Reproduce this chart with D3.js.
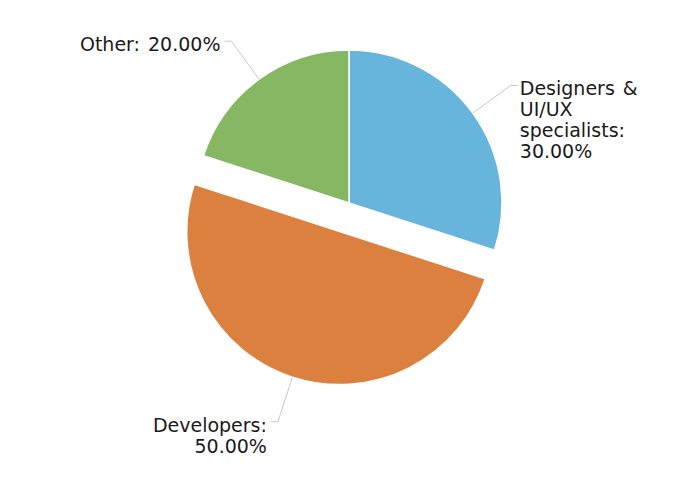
<!DOCTYPE html>
<html>
<head>
<meta charset="utf-8">
<script src="https://cdn.jsdelivr.net/npm/d3@7"></script>
<style>
    body { margin: 0; background: #fff; }
    #chart text { font-family: "DejaVu Sans", Verdana, sans-serif; font-size: 19px; fill: #1a1a1a; }
</style>
</head>
<body>
<div id="chart"></div>
<script>
let width = 692;
let height = 477;

// data
let categories = ["Designers & UI/UX specialists", "Developers", "Other"];
let values = [30, 50, 20];
let colors = ["#67b5dd", "#dc803f", "#86b763"];
let labelLines = [["Designers &", "UI/UX", "specialists:", "30.00%"], ["Developers:", "50.00%"], ["Other: 20.00%"]];
let exploded = [false, true, false];

let cx = 349, cy = 203;
let radius = 153;
let explodeOffset = 30;
let lineH = 21;

let svg = d3.select("#chart").append("svg")
    .attr("width", width).attr("height", height);

let pie = d3.pie().sort(null).value(d => d)(values);
let arc = d3.arc().innerRadius(0).outerRadius(radius);

let g = svg.append("g").attr("transform", `translate(${cx},${cy})`);

pie.forEach((p, i) => {
    let mid = (p.startAngle + p.endAngle) / 2;
    let off = exploded[i] ? explodeOffset : 0;
    let dx = Math.sin(mid) * off, dy = -Math.cos(mid) * off;
    let sg = g.append("g").attr("transform", `translate(${dx},${dy})`);
    sg.append("path").attr("d", arc(p))
        .attr("fill", colors[i])
        .attr("stroke", "#fff").attr("stroke-width", 1.5);

    // leader line
    let ex = Math.sin(mid) * radius, ey = -Math.cos(mid) * radius;
    let kx = Math.sin(mid) * (radius + 47), ky = -Math.cos(mid) * (radius + 47);
    let right = Math.sin(mid) > 0;
    let hx = kx + (right ? 7 : -7);
    sg.append("polyline")
        .attr("points", [[ex, ey], [kx, ky], [hx, ky]].map(d => d.join(",")).join(" "))
        .attr("fill", "none").attr("stroke", "#c8c8c8").attr("stroke-width", 1);

    let tx = hx + (right ? 2 : -4);
    let t = sg.append("text")
        .attr("text-anchor", right ? "start" : "end")
        .attr("x", tx)
        .attr("y", ky + 10);
    labelLines[i].forEach((l, j) => {
        t.append("tspan").attr("x", tx).attr("dy", j === 0 ? 0 : lineH)
            .style("word-spacing", "2px").text(l);
    });
});
</script>
</body>
</html>
